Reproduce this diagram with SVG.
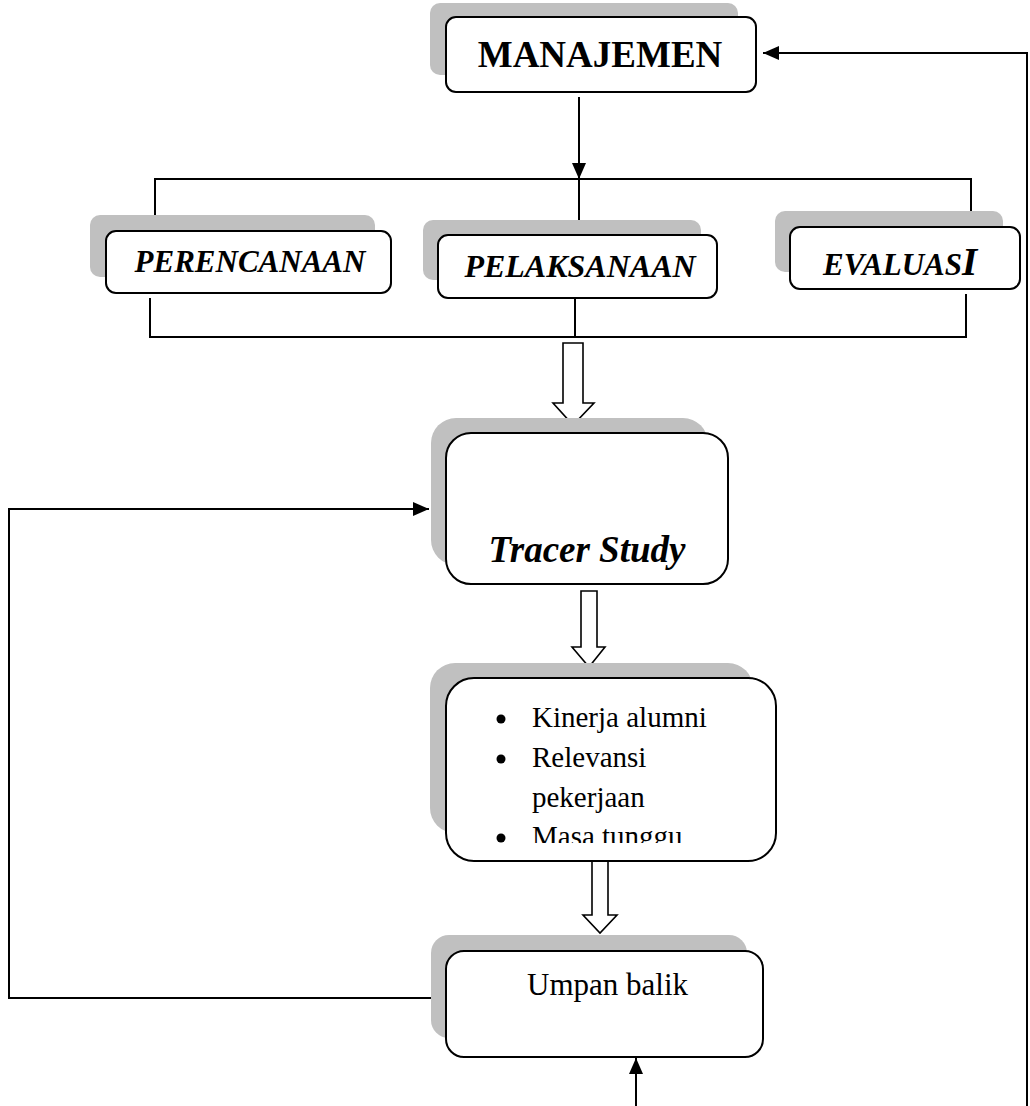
<svg xmlns="http://www.w3.org/2000/svg" width="1030" height="1106" viewBox="0 0 1030 1106">
<style>
.shadow{fill:#c0c0c0;stroke:none}
.box{fill:#fff;stroke:#000;stroke-width:2}
.line{fill:none;stroke:#000;stroke-width:2}
.hollow{fill:#fff;stroke:#000;stroke-width:1.6;stroke-linejoin:miter}
.t{font-family:"Liberation Serif","Times New Roman",serif;fill:#000}
.bi{font-weight:bold;font-style:italic}
</style>
<defs>
<marker id="arrL" viewBox="0 0 16 14" refX="16" refY="7" markerWidth="16" markerHeight="14" markerUnits="userSpaceOnUse" orient="auto">
<path d="M0,0 L16,7 L0,14 z" fill="#000"/>
</marker>
<clipPath id="clipB"><rect x="446" y="678" width="330" height="165"/></clipPath>
</defs>

<g id="connectors">
<polyline class="line" points="1027,1106 1027,53 763,53" marker-end="url(#arrL)"/>
<line class="line" x1="579" y1="97" x2="579" y2="179" marker-end="url(#arrL)"/>
<polyline class="line" points="155,227 155,179 971,179 971,213"/>
<line class="line" x1="579" y1="179" x2="579" y2="226"/>
<polyline class="line" points="150,298 150,337 966,337 966,294"/>
<line class="line" x1="575" y1="298" x2="575" y2="337"/>
<path class="hollow" d="M563,343 L583,343 L583,403 L594,403 L573,425 L553,403 L563,403 Z"/>
<path class="hollow" d="M581,591 L597,591 L597,647 L605,647 L589,667 L572,647 L581,647 Z"/>
<path class="hollow" d="M592,834 L608,834 L608,915 L617,915 L600,933 L583,915 L592,915 Z"/>
<polyline class="line" points="431,998 9,998 9,509 429,509" marker-end="url(#arrL)"/>
<line class="line" x1="636" y1="1106" x2="636" y2="1058" marker-end="url(#arrL)"/>
</g>

<g id="node-manajemen">
<rect class="shadow" x="430" y="3" width="308" height="72" rx="10"/>
<rect class="box" x="446" y="17" width="310" height="75" rx="10"/>
<text class="t" x="600" y="67" font-size="37" font-weight="bold" text-anchor="middle">MANAJEMEN</text>
</g>

<g id="node-perencanaan">
<rect class="shadow" x="90" y="215" width="285" height="62" rx="10"/>
<rect class="box" x="106" y="231" width="285" height="62" rx="10"/>
<text class="t bi" x="250" y="272" font-size="31" text-anchor="middle">PERENCANAAN</text>
</g>

<g id="node-pelaksanaan">
<rect class="shadow" x="423" y="220" width="278" height="60" rx="10"/>
<rect class="box" x="438" y="235" width="279" height="63" rx="10"/>
<text class="t bi" x="580" y="277" font-size="32" text-anchor="middle">PELAKSANAAN</text>
</g>

<g id="node-evaluasi">
<rect class="shadow" x="775" y="211" width="228" height="61" rx="10"/>
<rect class="box" x="790" y="227" width="230" height="62" rx="10"/>
<text class="t bi" x="823" y="275" font-size="31">EVALUAS<tspan font-size="39">I</tspan></text>
</g>

<g id="node-tracer">
<rect class="shadow" x="431" y="418" width="277" height="147" rx="25"/>
<rect class="box" x="446" y="433" width="282" height="151" rx="25"/>
<text class="t bi" x="587" y="562" font-size="37" text-anchor="middle">Tracer Study</text>
</g>

<g id="node-indikator">
<rect class="shadow" x="430" y="663" width="323" height="170" rx="25"/>
<rect class="box" x="446" y="678" width="330" height="183" rx="28"/>
<g clip-path="url(#clipB)">
<circle cx="501" cy="719" r="4.5" fill="#000"/>
<circle cx="501" cy="759" r="4.5" fill="#000"/>
<circle cx="501" cy="838" r="4.5" fill="#000"/>
<text class="t" x="532" y="727" font-size="29">Kinerja alumni</text>
<text class="t" x="532" y="767" font-size="29">Relevansi</text>
<text class="t" x="532" y="807" font-size="29">pekerjaan</text>
<text class="t" x="532" y="846" font-size="29">Masa tunggu</text>
</g>
</g>

<g id="node-umpan">
<rect class="shadow" x="431" y="935" width="316" height="103" rx="18"/>
<rect class="box" x="446" y="951" width="317" height="106" rx="18"/>
<text class="t" x="527" y="995" font-size="31">Umpan balik</text>
</g>
</svg>
